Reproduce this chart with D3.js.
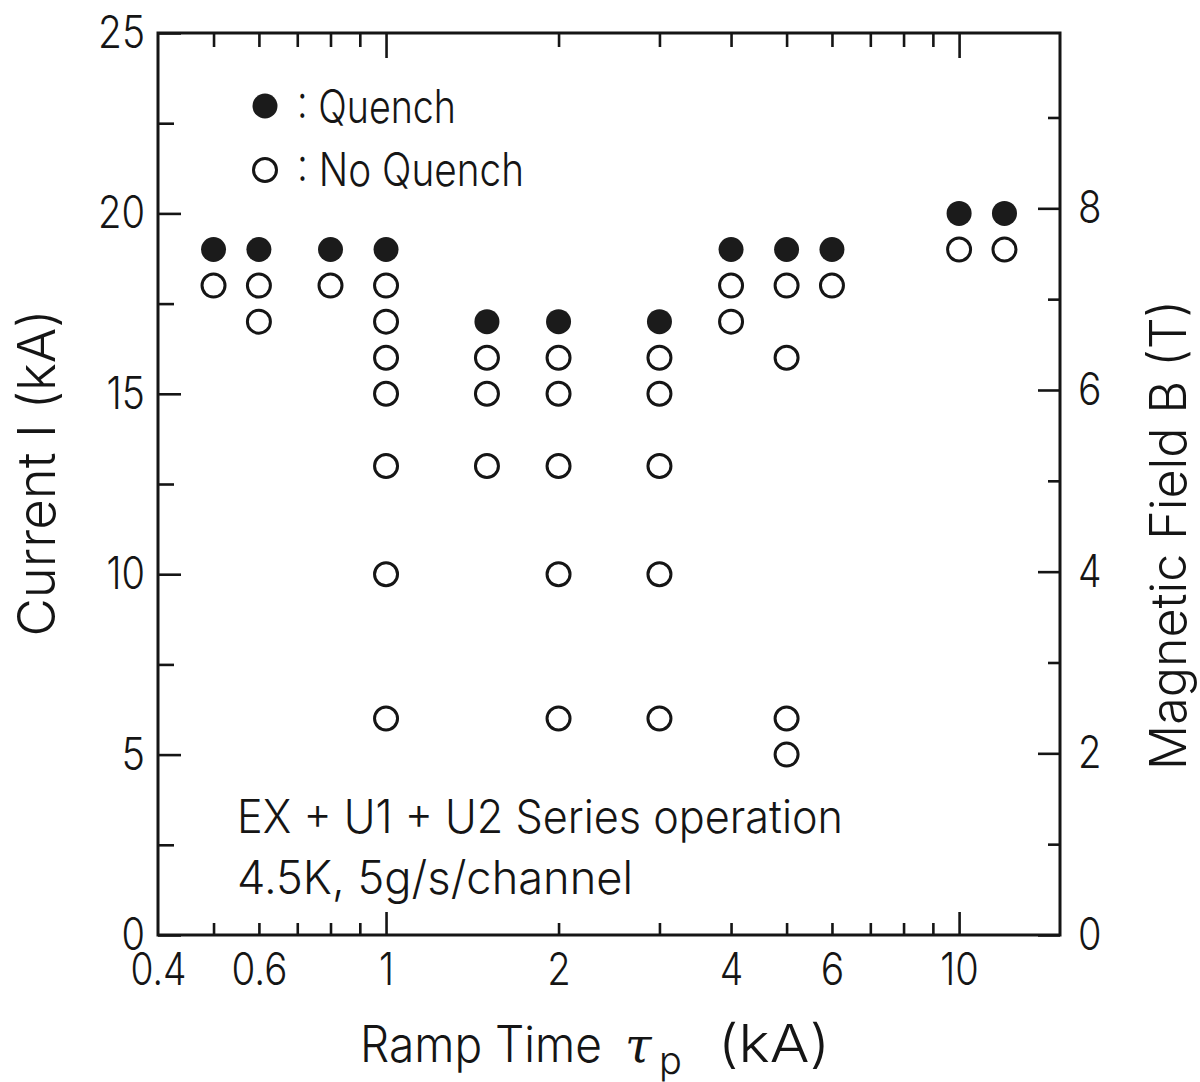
<!DOCTYPE html>
<html>
<head>
<meta charset="utf-8">
<script src="https://cdn.jsdelivr.net/npm/d3@7"></script>
<style>
  body { margin: 0; background: #fff; }
  text { font-family: Inter, "DejaVu Sans Condensed", sans-serif; font-weight: 300; fill: #151515; }
  .tick line { stroke: #151515; stroke-width: 2.6; }
</style>
</head>
<body>
<svg id="chart" width="1200" height="1082"></svg>
<script>
// Ramp times (log axis) tested, with the current at which the coil quenched
const rampTime = [0.5, 0.6, 0.8, 1, 1.5, 2, 3, 4, 5, 6, 10, 12];
const quenchCurrent = [19, 19, 19, 19, 17, 17, 17, 19, 19, 19, 20, 20];
// Currents reached without a quench, one list per ramp time
const noQuenchCurrents = [
  [18],
  [18, 17],
  [18],
  [18, 17, 16, 15, 13, 10, 6],
  [16, 15, 13],
  [16, 15, 13, 10, 6],
  [16, 15, 13, 10, 6],
  [18, 17],
  [18, 16, 6, 5],
  [18],
  [19],
  [19]
];

// Tick values
const xLabelTicks = [0.4, 0.6, 1, 2, 4, 6, 10];
const xMajorTicks = [1, 10];
const xMinorTicks = [0.5, 0.6, 0.7, 0.8, 0.9, 2, 3, 4, 5, 6, 7, 8, 9];
const yMajorTicks = [0, 5, 10, 15, 20, 25];
const yMinorTicks = [2.5, 7.5, 12.5, 17.5, 22.5];
const bMajorTicks = [0, 2, 4, 6, 8];
const bMinorTicks = [1, 3, 5, 7, 9];

const svg = d3.select("#chart");
const plotL = 158, plotR = 1060, plotT = 33, plotB = 935;

const x = d3.scaleLog().domain([0.4, 15]).range([plotL, plotR]);
const y = d3.scaleLinear().domain([0, 25]).range([plotB, plotT]);
const yB = d3.scaleLinear().domain([0, 9.93]).range([plotB, plotT]);

// narrow digit widths for the numeric labels
const charWidth = { ".": 9, "1": 15 };
const labelWidth = s => [...s].reduce((w, ch) => w + (charWidth[ch] || 23.5), 0);

function tickAxis(axis, transform) {
  const g = svg.append("g").attr("transform", transform).call(axis);
  g.select(".domain").remove();
  return g;
}

// bottom ticks (inward)
tickAxis(d3.axisBottom(x).tickValues(xMinorTicks).tickSize(-12).tickFormat(""), `translate(0,${plotB})`);
tickAxis(d3.axisBottom(x).tickValues(xMajorTicks).tickSize(-23).tickFormat(""), `translate(0,${plotB})`);
// top ticks
tickAxis(d3.axisTop(x).tickValues(xMinorTicks).tickSize(-14).tickFormat(""), `translate(0,${plotT})`);
tickAxis(d3.axisTop(x).tickValues(xMajorTicks).tickSize(-25).tickFormat(""), `translate(0,${plotT})`);
// left ticks
tickAxis(d3.axisLeft(y).tickValues(yMajorTicks).tickSize(-23).tickFormat(""), `translate(${plotL},0)`);
tickAxis(d3.axisLeft(y).tickValues(yMinorTicks).tickSize(-16).tickFormat(""), `translate(${plotL},0)`);
// right ticks
tickAxis(d3.axisRight(yB).tickValues(bMajorTicks).tickSize(-22).tickFormat(""), `translate(${plotR},0)`);
tickAxis(d3.axisRight(yB).tickValues(bMinorTicks).tickSize(-12).tickFormat(""), `translate(${plotR},0)`);

// tick labels
const labelStyle = g => g.selectAll("text")
  .style("font-size", "45px").attr("fill", "#151515")
  .attr("textLength", function () { return labelWidth(this.textContent); })
  .attr("lengthAdjust", "spacingAndGlyphs");
tickAxis(d3.axisBottom(x).tickValues(xLabelTicks).tickSize(0).tickPadding(18).tickFormat(d => String(d)), `translate(0,${plotB})`)
  .call(labelStyle).selectAll("line").remove();
tickAxis(d3.axisLeft(y).tickValues(yMajorTicks).tickSize(0).tickPadding(13).tickFormat(d3.format("d")), `translate(${plotL},0)`)
  .call(labelStyle).selectAll("line").remove();
tickAxis(d3.axisRight(yB).tickValues(bMajorTicks).tickSize(0).tickPadding(18).tickFormat(d3.format("d")), `translate(${plotR},0)`)
  .call(labelStyle).selectAll("line").remove();

// frame
svg.append("rect")
  .attr("x", plotL).attr("y", plotT)
  .attr("width", plotR - plotL).attr("height", plotB - plotT)
  .attr("fill", "none").attr("stroke", "#151515").attr("stroke-width", 3);

// no-quench points (open)
const openPts = rampTime.flatMap((t, i) => noQuenchCurrents[i].map(c => ({ t, c })));
svg.append("g").selectAll("circle").data(openPts).join("circle")
  .attr("cx", d => x(d.t)).attr("cy", d => y(d.c)).attr("r", 11.5)
  .attr("fill", "#fff").attr("stroke", "#151515").attr("stroke-width", 3);

// quench points (filled)
svg.append("g").selectAll("circle").data(rampTime.map((t, i) => ({ t, c: quenchCurrent[i] }))).join("circle")
  .attr("cx", d => x(d.t)).attr("cy", d => y(d.c)).attr("r", 12.5)
  .attr("fill", "#1b1b1b");

function fitText(sel, len) {
  return sel.attr("textLength", len).attr("lengthAdjust", "spacingAndGlyphs");
}

// legend
svg.append("circle").attr("cx", 265).attr("cy", 106).attr("r", 12.5).attr("fill", "#1b1b1b");
fitText(svg.append("text").attr("x", 297).attr("y", 123).style("font-size", "46px").text(": Quench"), 159);
svg.append("circle").attr("cx", 265).attr("cy", 170).attr("r", 11.5)
  .attr("fill", "#fff").attr("stroke", "#151515").attr("stroke-width", 3);
fitText(svg.append("text").attr("x", 297).attr("y", 186).style("font-size", "46px").text(": No Quench"), 227);

// operating conditions
fitText(svg.append("text").attr("x", 237).attr("y", 833).style("font-size", "46px")
  .text("EX + U1 + U2  Series operation"), 606);
fitText(svg.append("text").attr("x", 237).attr("y", 894).style("font-size", "46px")
  .text("4.5K, 5g/s/channel"), 396);

// x-axis title: "Ramp Time τp (kA)"
fitText(svg.append("text").attr("x", 360).attr("y", 1062).style("font-size", "50px").text("Ramp Time"), 242);
svg.append("text").attr("x", 625).attr("y", 1062).style("font-size", "48px")
  .style("font-style", "italic").style("font-family", "DejaVu Serif").text("τ");
svg.append("text").attr("x", 659).attr("y", 1074).style("font-size", "38px").text("p");
fitText(svg.append("text").attr("x", 718).attr("y", 1062).style("font-size", "52px").text("(kA)"), 112);

fitText(svg.append("text")
  .attr("transform", "translate(55,473) rotate(-90)")
  .attr("text-anchor", "middle").style("font-size", "52px")
  .text("Current I (kA)"), 327);

fitText(svg.append("text")
  .attr("transform", "translate(1186,535) rotate(-90)")
  .attr("text-anchor", "middle").style("font-size", "50px")
  .text("Magnetic Field B (T)"), 470);
</script>
</body>
</html>
